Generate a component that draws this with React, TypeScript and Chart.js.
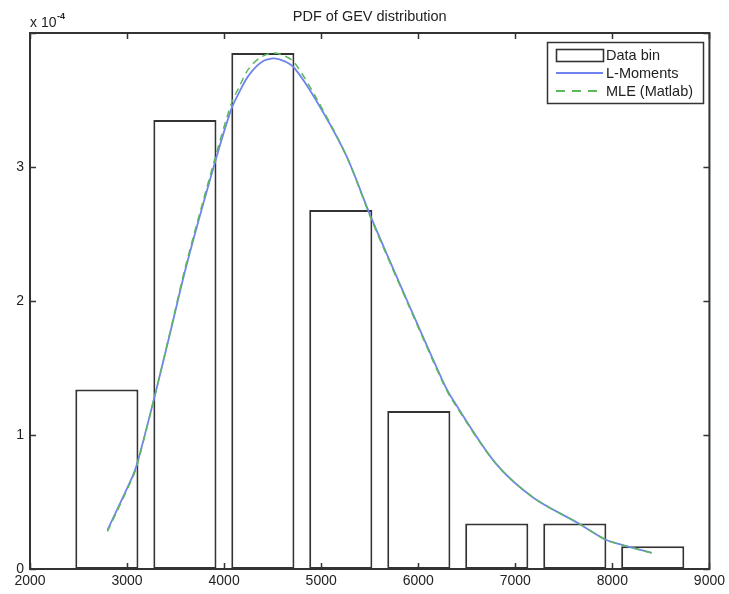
import React, { useEffect, useRef } from "react";
import { Chart, registerables } from "chart.js";

Chart.register(...registerables);

// Histogram (Data bin): bin centres and density heights
const binCenters = [2792, 3596, 4399, 5202, 6006, 6809, 7613, 8416];
const binDensity = [1.34e-4, 3.35e-4, 3.85e-4, 2.68e-4, 1.18e-4, 0.34e-4, 0.34e-4, 0.17e-4];

// Fitted GEV pdf curves
const curveX = [2798, 3062, 3113, 3285, 3450, 3610, 3912, 4073, 4150, 4250, 4380, 4508, 4620, 4723, 4946, 5255, 5511, 5905, 6248, 6351, 6796, 7190, 7653, 7927, 8098, 8406];
const lMomentsY = [0.29e-4, 0.70e-4, 0.81e-4, 1.29e-4, 1.78e-4, 2.26e-4, 3.05e-4, 3.43e-4, 3.55e-4, 3.68e-4, 3.78e-4, 3.81e-4, 3.79e-4, 3.74e-4, 3.50e-4, 3.09e-4, 2.63e-4, 1.97e-4, 1.41e-4, 1.27e-4, 0.79e-4, 0.53e-4, 0.34e-4, 0.22e-4, 0.18e-4, 0.12e-4];
const mleY = [0.28e-4, 0.69e-4, 0.80e-4, 1.29e-4, 1.79e-4, 2.28e-4, 3.08e-4, 3.47e-4, 3.59e-4, 3.73e-4, 3.82e-4, 3.85e-4, 3.83e-4, 3.78e-4, 3.52e-4, 3.09e-4, 2.62e-4, 1.96e-4, 1.40e-4, 1.26e-4, 0.79e-4, 0.53e-4, 0.34e-4, 0.22e-4, 0.18e-4, 0.12e-4];

// Axes
const xTicks = [2000, 3000, 4000, 5000, 6000, 7000, 8000, 9000];
const yTicks = [0, 1e-4, 2e-4, 3e-4, 4e-4];
const titleText = "PDF of GEV distribution";
const legendLabels = ["Data bin", "L-Moments", "MLE (Matlab)"];

const FONT = '"Liberation Sans", Arial, Helvetica, sans-serif';
const BLUE = "#7084f0";
const GREEN = "#5cb85c";
const DASH = [7, 5];
const EDGE = "#333333";

const matlabPlugin = {
  id: "matlabFrame",
  afterDatasetsDraw(chart: any) {
    const { ctx, chartArea, scales } = chart;
    const { left, right, top, bottom } = chartArea;
    const x = scales.x;
    const y = scales.y;
    ctx.save();
    ctx.setLineDash([]);
    ctx.strokeStyle = EDGE;
    ctx.lineWidth = 1.5;
    ctx.beginPath();
    for (const v of xTicks) {
      const px = Math.round(x.getPixelForValue(v)) + 0.5;
      ctx.moveTo(px, bottom);
      ctx.lineTo(px, bottom - 6);
      ctx.moveTo(px, top);
      ctx.lineTo(px, top + 6);
    }
    for (const v of yTicks) {
      const py = Math.round(y.getPixelForValue(v)) + 0.5;
      ctx.moveTo(left, py);
      ctx.lineTo(left + 6, py);
      ctx.moveTo(right, py);
      ctx.lineTo(right - 6, py);
    }
    ctx.stroke();
    ctx.lineWidth = 2;
    ctx.strokeRect(left, top, right - left, bottom - top);

    // title
    ctx.fillStyle = "#222";
    ctx.font = `14.5px ${FONT}`;
    ctx.textAlign = "center";
    ctx.textBaseline = "alphabetic";
    ctx.fillText(titleText, (left + right) / 2, 21);

    // exponent
    ctx.textAlign = "left";
    ctx.font = `14px ${FONT}`;
    ctx.fillText("x 10", left, 27);
    const w = ctx.measureText("x 10").width;
    ctx.font = `bold 9px ${FONT}`;
    ctx.fillText("-4", left + w + 0.5, 19);

    // legend
    const lx0 = 547, lx1 = 703, ly0 = 42, ly1 = 103;
    ctx.fillStyle = "#fff";
    ctx.fillRect(lx0, ly0, lx1 - lx0, ly1 - ly0);
    ctx.strokeStyle = EDGE;
    ctx.lineWidth = 1.5;
    ctx.strokeRect(lx0 + 0.5, ly0 + 0.5, lx1 - lx0, ly1 - ly0);
    const rows = [55, 73, 91];
    const sx0 = 556, sx1 = 603;
    // Data bin symbol
    ctx.lineWidth = 1.6;
    ctx.strokeRect(sx0 + 0.5, rows[0] - 6 + 0.5, sx1 - sx0, 12);
    // L-Moments
    ctx.strokeStyle = BLUE;
    ctx.lineWidth = 1.8;
    ctx.beginPath();
    ctx.moveTo(sx0, rows[1]);
    ctx.lineTo(sx1, rows[1]);
    ctx.stroke();
    // MLE
    ctx.strokeStyle = GREEN;
    ctx.setLineDash([9, 7]);
    ctx.beginPath();
    ctx.moveTo(sx0, rows[2]);
    ctx.lineTo(sx1, rows[2]);
    ctx.stroke();
    ctx.setLineDash([]);
    ctx.fillStyle = "#222";
    ctx.font = `14.5px ${FONT}`;
    ctx.textBaseline = "middle";
    legendLabels.forEach((t, i) => ctx.fillText(t, 606, rows[i] + 0.5));
    ctx.restore();
  },
};

export default function App() {
  const ref = useRef<HTMLCanvasElement | null>(null);
  useEffect(() => {
    if (!ref.current) return;
    const chart = new Chart(ref.current, {
      type: "bar",
      data: {
        datasets: [
          {
            type: "line",
            label: legendLabels[2],
            data: curveX.map((v, i) => ({ x: v, y: mleY[i] })),
            borderColor: GREEN,
            borderWidth: 1.5,
            borderDash: DASH,
            pointRadius: 0,
            tension: 0.3,
            fill: false,
            order: 1,
          } as any,
          {
            type: "line",
            label: legendLabels[1],
            data: curveX.map((v, i) => ({ x: v, y: lMomentsY[i] })),
            borderColor: BLUE,
            borderWidth: 1.8,
            pointRadius: 0,
            tension: 0.3,
            fill: false,
            order: 2,
          } as any,
          {
            type: "bar",
            label: legendLabels[0],
            data: binCenters.map((v, i) => ({ x: v, y: binDensity[i] })),
            backgroundColor: "#ffffff",
            borderColor: EDGE,
            borderWidth: 2,
            borderSkipped: false,
            barPercentage: 0.81,
            categoryPercentage: 1.0,
            order: 3,
          } as any,
        ],
      },
      options: {
        animation: false,
        responsive: false,
        devicePixelRatio: 1,
        layout: { padding: { top: 33, right: 18, left: 0, bottom: 0 } },
        plugins: {
          legend: { display: false },
          title: { display: false },
          tooltip: { enabled: false },
        },
        scales: {
          x: {
            type: "linear",
            min: 2000,
            max: 9000,
            offset: false,
            grid: { display: false, drawTicks: false },
            border: { display: false },
            ticks: {
              stepSize: 1000,
              padding: 4,
              color: "#222",
              font: { family: FONT, size: 14 },
              maxRotation: 0,
              callback: (v: any) => String(v),
            },
            afterFit: (s: any) => {
              s.height = 25;
            },
          },
          y: {
            type: "linear",
            min: 0,
            max: 4e-4,
            grid: { display: false, drawTicks: false },
            border: { display: false },
            ticks: {
              stepSize: 1e-4,
              padding: 6,
              color: "#222",
              font: { family: FONT, size: 14 },
              callback: (v: any) => {
                const n = Math.round(Number(v) * 1e4);
                return n === 4 ? "" : String(n);
              },
            },
            afterFit: (s: any) => {
              s.width = 30;
            },
          },
        },
      },
      plugins: [matlabPlugin],
    });
    return () => chart.destroy();
  }, []);
  return (
    <div style={{ position: "fixed", left: 0, top: 0, width: 729, height: 594, background: "#fff" }}>
      <canvas ref={ref} width={729} height={594} style={{ display: "block" }} />
    </div>
  );
}
